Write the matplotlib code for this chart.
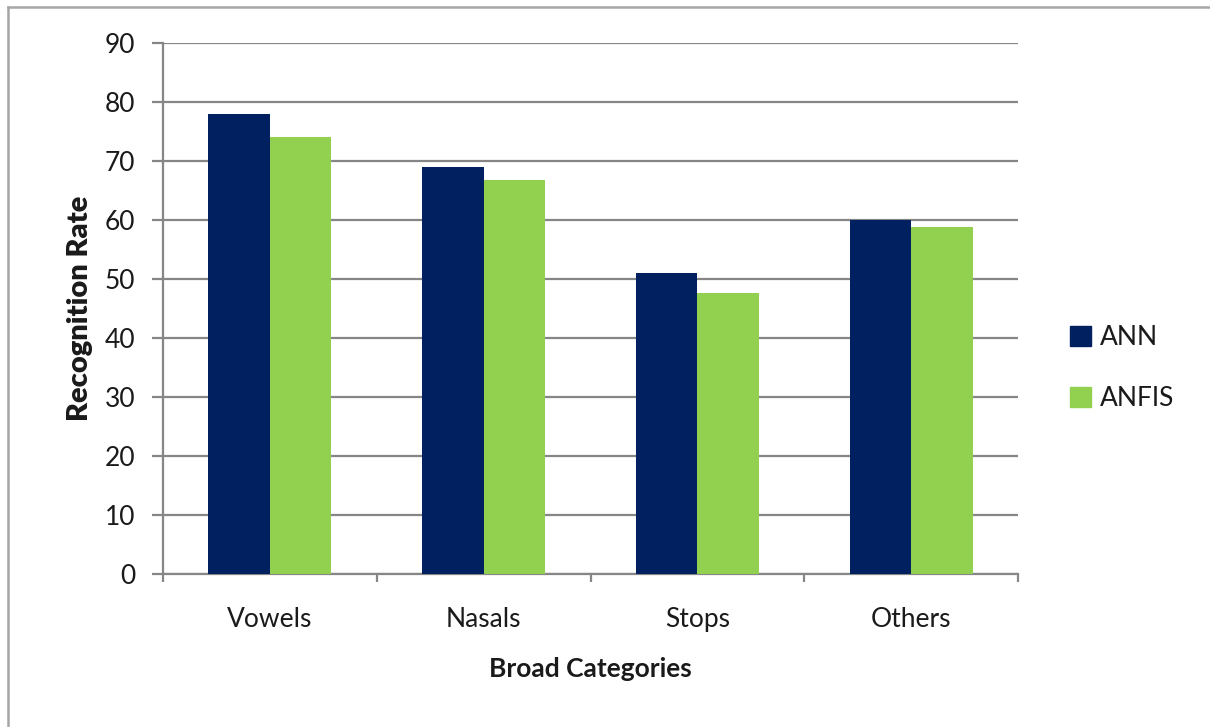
import matplotlib
matplotlib.use("Agg")
import matplotlib.pyplot as plt
import numpy as np
from matplotlib.lines import Line2D

plt.rcParams['font.family'] = ['Lato', 'DejaVu Sans']

categories = ["Vowels", "Nasals", "Stops", "Others"]
ann = [78, 69, 51, 60]
anfis = [74.1, 66.8, 47.7, 58.8]
series_names = ["ANN", "ANFIS"]
yticks = [0, 10, 20, 30, 40, 50, 60, 70, 80, 90]

navy = "#002060"
green = "#92D050"
grid_grey = "#868686"
text_col = "#1a1a1a"

fig = plt.figure(figsize=(12.10, 7.27), dpi=100)
ax = fig.add_axes([163 / 1210, 1 - 574 / 727, 855 / 1210, 531 / 727])

centers = np.arange(len(categories)) + 0.5
w = 0.2875
ax.bar(centers - w / 2, ann, width=w, color=navy, label=series_names[0], zorder=3)
ax.bar(centers + w / 2, anfis, width=w, color=green, label=series_names[1], zorder=3)

ax.set_xlim(0, len(categories))
ax.set_ylim(0, 90)
ax.set_yticks(yticks)
ax.yaxis.grid(True, color=grid_grey, linewidth=1.6, zorder=0)
ax.set_axisbelow(True)

for s in ["top", "right"]:
    ax.spines[s].set_visible(False)
ax.spines["left"].set_color(grid_grey)
ax.spines["left"].set_linewidth(1.6)
ax.spines["bottom"].set_color(grid_grey)
ax.spines["bottom"].set_linewidth(1.6)

# category boundary ticks on x, labels centred on groups
ax.set_xticks(np.arange(len(categories) + 1))
ax.set_xticklabels([])
ax.set_xticks(centers, minor=True)
ax.set_xticklabels(categories, minor=True)
ax.tick_params(axis="x", which="major", length=6, width=1.6, color=grid_grey, direction="out")
ax.tick_params(axis="x", which="minor", length=0, pad=24, labelsize=19, labelcolor=text_col)
ax.tick_params(axis="y", length=8, width=1.6, color=grid_grey, direction="out",
               pad=12, labelsize=19, labelcolor=text_col)

ax.set_xlabel("Broad Categories", fontsize=19, fontweight="bold", color=text_col, labelpad=18)
ax.set_ylabel("Recognition Rate", fontsize=21, fontweight="heavy", color=text_col, labelpad=8)

handles = [plt.Rectangle((0, 0), 1, 1, color=navy), plt.Rectangle((0, 0), 1, 1, color=green)]
fig.legend(handles, series_names, loc="center left", bbox_to_anchor=(1046 / 1210, 1 - 368 / 727),
           frameon=False, fontsize=19, handlelength=0.8, handleheight=0.8, handletextpad=0.35,
           labelspacing=1.35, labelcolor=text_col)

# outer chart frame (top and left edges)
fig.add_artist(Line2D([8 / 1210, 1.0], [1 - 7 / 727, 1 - 7 / 727], color="#a6a6a6", linewidth=1.8))
fig.add_artist(Line2D([8 / 1210, 8 / 1210], [0.0, 1 - 7 / 727], color="#a6a6a6", linewidth=1.8))

fig.savefig("out.png", dpi=100, facecolor="white")
